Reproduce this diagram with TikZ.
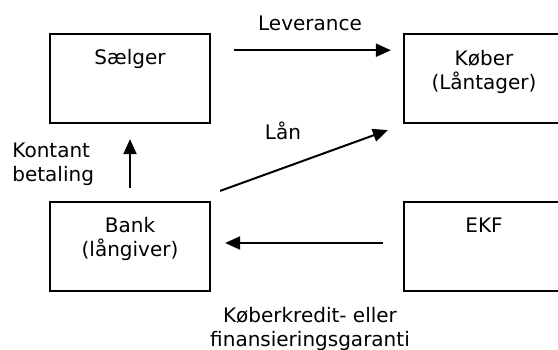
\documentclass[tikz,border=0pt]{standalone}
\usepackage{fontspec}
\setmainfont{DejaVu Sans}
\usetikzlibrary{arrows.meta,calc}
\begin{document}
\begin{tikzpicture}[x=0.5pt,y=-0.5pt,
  font=\fontsize{10}{12}\selectfont,
  box/.style={draw,line width=1.1pt,minimum width=80pt,minimum height=44.5pt,inner sep=0pt},
  txt/.style={inner sep=0pt,align=center},
  arr/.style={line width=1pt,-{Triangle[length=7.5pt,width=6.5pt]}}]
\useasboundingbox (0,0) rectangle (558,349);
% the four parties
\node[box] (seller) at (130,78.5) {};
\node[box] (buyer) at (484,78.5) {};
\node[box] (bank) at (130,246.5) {};
\node[box] (ekf) at (484,246.5) {};
\node[txt,anchor=north] (sellertxt) at (130,49) {Sælger};
\node[txt,anchor=north] (buyertxt) at (484,50) {Køber\\(Låntager)};
\node[txt,anchor=north] (banktxt) at (130,217) {Bank\\(långiver)};
\node[txt,anchor=north] (ekftxt) at (484,217.5) {EKF};
% flows between them
\draw[arr,shorten <=11.5pt,shorten >=6pt]
  ($(seller.north east)!0.19!(seller.south east)$) -- ($(buyer.north west)!0.19!(buyer.south west)$);
\draw[arr] ([shift={(9,-10)}]bank.north east) -- ([shift={(-15,6)}]buyer.south west);
\draw[arr,shorten <=6.5pt,shorten >=7.5pt] (bank.north) -- (seller.south);
\draw[arr,shorten <=10pt,shorten >=7pt] ([yshift=1.75pt]ekf.west) -- ([yshift=1.75pt]bank.east);
% labels
\node[txt,anchor=base] (deliv) at (310,30.5) {Leverance};
\node[txt,anchor=base] (loan) at (283,139) {Lån};
\node[txt,anchor=north west,align=left] (cash) at (12,143) {Kontant\\betaling};
\node[txt,anchor=north] (guar) at (310,307) {Køberkredit- eller\\finansieringsgaranti};
\end{tikzpicture}
\end{document}
